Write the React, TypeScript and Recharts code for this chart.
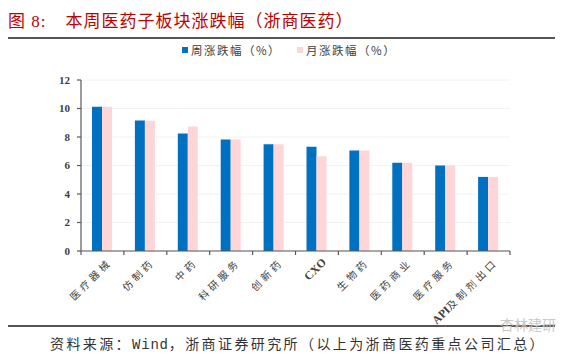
import { Bar, BarChart, CartesianGrid, Legend, XAxis, YAxis } from 'recharts';

const categories = ['医疗器械', '仿制药', '中药', '科研服务', '创新药', 'CXO', '生物药', '医药商业', '医疗服务', 'API及制剂出口'];
const weekChange = [10.13, 9.15, 8.25, 7.83, 7.49, 7.32, 7.06, 6.2, 6.0, 5.2];
const monthChange = [10.13, 9.14, 8.73, 7.83, 7.49, 6.65, 7.06, 6.2, 6.0, 5.2];
const yTicks = [0, 2, 4, 6, 8, 10, 12];

const data = categories.map((name, i) => ({ name, week: weekChange[i], month: monthChange[i] }));

const W = 565;
const H = 359;
const margin = { top: 64, right: 55, left: 0, bottom: 48 };
const yAxisWidth = 81;
const band = (W - margin.left - margin.right - yAxisWidth) / categories.length;

const BLUE = '#0070c0';
const PINK = '#ffd6d7';
const AXIS = '#595959';
const TEXT = '#404040';
const CJK = "'Noto Sans CJK SC', sans-serif";
const SERIF = "'Liberation Serif', 'Noto Sans CJK SC', serif";

function XTick(props: any) {
  const { x, y, payload, index } = props;
  const label: string = payload.value;
  const parts = label.split(/([A-Za-z]+)/).filter(Boolean);
  const ax = x + 10;
  const ay = y + 12;
  return (
    <g>
      <line x1={x - band / 2} x2={x - band / 2} y1={y} y2={y + 4} stroke={AXIS} strokeWidth={1.2} />
      {index === categories.length - 1 && (
        <line x1={x + band / 2} x2={x + band / 2} y1={y} y2={y + 4} stroke={AXIS} strokeWidth={1.2} />
      )}
      <text x={ax} y={ay} transform={`rotate(-45 ${ax} ${ay})`} textAnchor="end" fontSize={10} fill={TEXT} letterSpacing={3.5}>
        {parts.map((p, i) =>
          /[A-Za-z]/.test(p) ? (
            <tspan key={i} fontFamily="'Liberation Serif', serif" fontWeight="bold" fontSize={11.5} letterSpacing={0}>
              {p}
            </tspan>
          ) : (
            <tspan key={i} fontFamily={CJK}>
              {p}
            </tspan>
          ),
        )}
      </text>
    </g>
  );
}

function LegendContent() {
  const items = [
    { label: '周涨跌幅（%）', color: BLUE },
    { label: '月涨跌幅（%）', color: PINK },
  ];
  return (
    <div style={{ display: 'flex', gap: 16, fontFamily: CJK, fontSize: 11.5, color: TEXT, alignItems: 'center' }}>
      {items.map((it) => (
        <div key={it.label} style={{ display: 'flex', alignItems: 'center', gap: 3 }}>
          <span style={{ width: 6, height: 6, background: it.color, display: 'inline-block' }} />
          <span style={{ letterSpacing: 1.5 }}>{it.label}</span>
        </div>
      ))}
    </div>
  );
}

export default function App() {
  return (
    <div style={{ position: 'absolute', left: 0, top: 0, width: W, height: H, background: '#fff', overflow: 'hidden' }}>
      <div style={{ position: 'absolute', left: 8, top: 7, fontFamily: SERIF, fontSize: 17, color: '#c00000', whiteSpace: 'nowrap', letterSpacing: 1 }}>
        <span>图 8:</span>
        <span style={{ marginLeft: 19 }}>本周医药子板块涨跌幅（浙商医药）</span>
      </div>
      <div style={{ position: 'absolute', left: 8, top: 37, width: 547, height: 1.5, background: '#555' }} />

      <BarChart width={W} height={H} data={data} margin={margin} barGap={0} barSize={10}>
        <CartesianGrid horizontal vertical={false} stroke="#f2f2f2" />
        <XAxis
          dataKey="name"
          interval={0}
          height={60}
          stroke={AXIS}
          strokeWidth={1.2}
          tickLine={false}
          tickSize={0}
          tickMargin={0}
          tick={<XTick />}
        />
        <YAxis
          domain={[0, 12]}
          ticks={yTicks}
          width={yAxisWidth}
          stroke={AXIS}
          strokeWidth={1.2}
          tickSize={4}
          tickMargin={7}
          tick={{ fill: TEXT, fontSize: 11, fontFamily: "'Liberation Serif', serif", fontWeight: 'bold' }}
        />
        <Legend
          verticalAlign="top"
          content={() => <LegendContent />}
          wrapperStyle={{ position: 'absolute', top: 42, left: 182, width: 'auto' }}
        />
        <Bar dataKey="week" name="周涨跌幅（%）" fill={BLUE} isAnimationActive={false} />
        <Bar dataKey="month" name="月涨跌幅（%）" fill={PINK} isAnimationActive={false} />
      </BarChart>

      <div style={{ position: 'absolute', left: 8, top: 325, width: 547, height: 1.5, background: '#555' }} />
      <div style={{ position: 'absolute', left: 50, top: 333, fontFamily: SERIF, fontSize: 14, color: '#333', whiteSpace: 'nowrap', letterSpacing: 2.4 }}>
        资料来源：<span style={{ fontFamily: "'Liberation Mono', monospace", letterSpacing: 0.8 }}>Wind</span>，浙商证券研究所（以上为浙商医药重点公司汇总）
      </div>
      <div style={{ position: 'absolute', left: 500, top: 314, fontFamily: CJK, fontSize: 14, color: '#c8c8c8', whiteSpace: 'nowrap' }}>
        杏林建研
      </div>
    </div>
  );
}
